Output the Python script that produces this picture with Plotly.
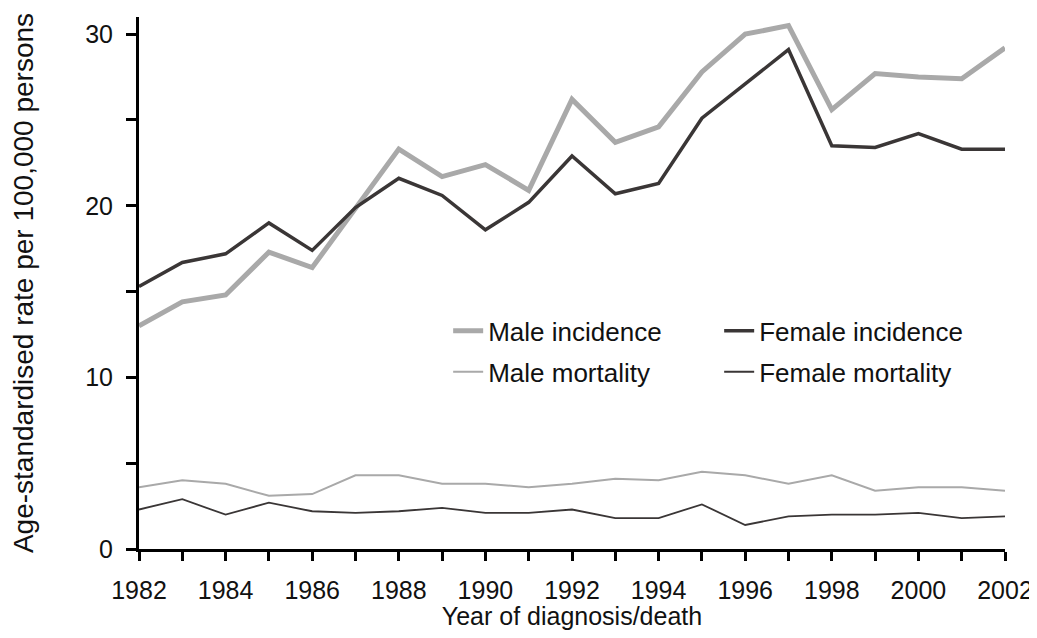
import plotly.graph_objects as go

years = list(range(1982, 2003))
male_incidence = [13.0, 14.4, 14.8, 17.3, 16.4, 19.9, 23.3, 21.7, 22.4, 20.9, 26.2,
                  23.7, 24.6, 27.8, 30.0, 30.5, 25.6, 27.7, 27.5, 27.4, 29.2]
female_incidence = [15.3, 16.7, 17.2, 19.0, 17.4, 19.9, 21.6, 20.6, 18.6, 20.2, 22.9,
                    20.7, 21.3, 25.1, 27.1, 29.1, 23.5, 23.4, 24.2, 23.3, 23.3]
male_mortality = [3.6, 4.0, 3.8, 3.1, 3.2, 4.3, 4.3, 3.8, 3.8, 3.6, 3.8,
                  4.1, 4.0, 4.5, 4.3, 3.8, 4.3, 3.4, 3.6, 3.6, 3.4]
female_mortality = [2.3, 2.9, 2.0, 2.7, 2.2, 2.1, 2.2, 2.4, 2.1, 2.1, 2.3,
                    1.8, 1.8, 2.6, 1.4, 1.9, 2.0, 2.0, 2.1, 1.8, 1.9]

LIGHT = "#a9a9a9"
DARK = "#3a3636"
FONT = "Liberation Sans, Arial, sans-serif"
TXT = "#111111"

fig = go.Figure()
fig.add_trace(go.Scatter(x=years, y=male_incidence, mode="lines", name="Male incidence",
                         line=dict(color=LIGHT, width=5), legend="legend"))
fig.add_trace(go.Scatter(x=years, y=female_incidence, mode="lines", name="Female incidence",
                         line=dict(color=DARK, width=3.5), legend="legend"))
fig.add_trace(go.Scatter(x=years, y=male_mortality, mode="lines", name="Male mortality",
                         line=dict(color=LIGHT, width=2), legend="legend2"))
fig.add_trace(go.Scatter(x=years, y=female_mortality, mode="lines", name="Female mortality",
                         line=dict(color=DARK, width=1.8), legend="legend2"))

xtickvals = years
xticktext = [str(y) if (y - 1982) % 2 == 0 else "" for y in years]
ytickvals = [0, 5, 10, 15, 20, 25, 30]
yticktext = [str(v) if v % 10 == 0 else "" for v in ytickvals]

leg_common = dict(orientation="h", xanchor="left", yanchor="middle",
                  entrywidth=226, entrywidthmode="pixels",
                  font=dict(family=FONT, size=26, color=TXT),
                  bgcolor="rgba(0,0,0,0)", itemwidth=30, traceorder="normal")

# page body has an 8px margin; size the figure so the page does not overflow the window
fig.update_layout(
    width=1029, height=622,
    margin=dict(l=131, r=32, t=9, b=81, autoexpand=False),
    paper_bgcolor="white", plot_bgcolor="white",
    font=dict(family=FONT, size=25, color=TXT),
    showlegend=True,
    legend=dict(x=0.357, y=0.41, **leg_common),
    legend2=dict(x=0.357, y=0.333, **leg_common),
    xaxis=dict(range=[1982, 2002], tickvals=xtickvals, ticktext=xticktext,
               showline=True, linecolor="black", linewidth=3,
               ticks="outside", ticklen=9, tickwidth=3, tickcolor="black",
               ticklabelstandoff=8, ticklabeloverflow="allow",
               showgrid=False, zeroline=False, automargin=False,
               title=dict(text="Year of diagnosis/death", font=dict(size=25), standoff=12),
               tickfont=dict(size=25)),
    yaxis=dict(range=[0, 31], tickvals=ytickvals, ticktext=yticktext,
               showline=True, linecolor="black", linewidth=3,
               ticks="outside", ticklen=10, tickwidth=3, tickcolor="black",
               ticklabelstandoff=8, ticklabeloverflow="allow",
               showgrid=False, zeroline=False, automargin=False,
               title=dict(text="Age-standardised rate per 100,000 persons", font=dict(size=28), standoff=48),
               tickfont=dict(size=25)),
)

fig.write_html("out.html")
